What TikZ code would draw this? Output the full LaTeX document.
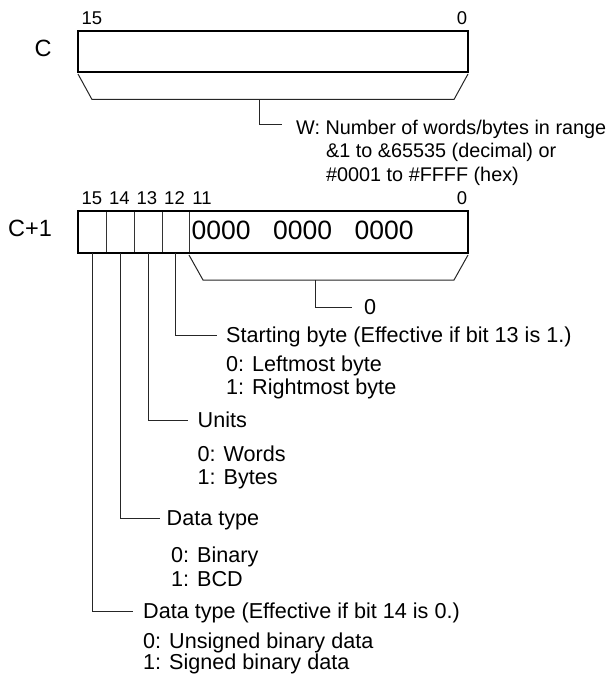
\documentclass[tikz,border=0pt]{standalone}
\usepackage{fontspec}
\setmainfont{Liberation Sans}
\begin{document}
\begin{tikzpicture}[x=1pt,y=-1pt,
  bigbox/.style={draw=black, line width=2.8pt, minimum width=390pt, inner sep=0pt, outer sep=0pt},
  cellbox/.style={minimum width=28pt, minimum height=42pt, inner sep=0pt, outer sep=0pt},
  bitlbl/.style={anchor=base, inner sep=0pt, font=\fontsize{18.5}{20}\selectfont},
  reglbl/.style={anchor=base, inner sep=0pt, font=\fontsize{23.5}{26}\selectfont},
  desc/.style={anchor=west, inner sep=0pt, text height=15.5pt, text depth=0pt, font=\fontsize{21.6}{24}\selectfont},
  wtext/.style={anchor=west, inner sep=0pt, text height=14.2pt, text depth=0pt, font=\fontsize{19.8}{22}\selectfont},
  zeros/.style={anchor=base west, inner sep=0pt, font=\fontsize{26.5}{28}\selectfont},
  conn/.style={draw=black!85, line width=1pt},
  divider/.style={draw=black!80, line width=0.9pt}
]
\useasboundingbox (0,0) rectangle (610,674);

% ---- word C ----
\node[bitlbl] (t15) at (92,24.6) {15};
\node[bitlbl] (t0) at (462,24.6) {0};
\node[reglbl] (lc) at (43,56.7) {C};
\node[bigbox, minimum height=41pt] (cw) at (273,51.5) {};
\coordinate (cwtl) at (78,74);
\coordinate (cwbl) at (92,99.5);
\coordinate (cwbr) at (454,99.5);
\coordinate (cwtr) at (468,74);
\draw[conn] (cwtl) -- (cwbl) -- (cwbr) -- (cwtr);
\coordinate (cwstem) at (259,99.5);
\coordinate (wend) at (282,125);
\draw[conn] (cwstem) |- (wend);
\node[wtext] (w1) at (296,127) {W: Number of words/bytes in range};
\node[wtext] (w2) at (326,150.5) {\&1 to \&65535 (decimal) or};
\node[wtext] (w3) at (326,174) {\#0001 to \#FFFF (hex)};

% ---- word C+1 ----
\node[bitlbl] (b15) at (92,204.6) {15};
\node[bitlbl] (b14) at (119.5,204.6) {14};
\node[bitlbl] (b13) at (147,204.6) {13};
\node[bitlbl] (b12) at (174.5,204.6) {12};
\node[bitlbl] (b11) at (202,204.6) {11};
\node[bitlbl] (b0) at (462,204.6) {0};
\node[reglbl] (lc1) at (30,236.4) {C+1};

\node[cellbox] (c15) at (92,232) {};
\node[cellbox] (c14) at (120,232) {};
\node[cellbox] (c13) at (148,232) {};
\node[cellbox, minimum width=27pt] (c12) at (175.5,232) {};
\draw[divider] (c15.north east) -- (c15.south east);
\draw[divider] (c14.north east) -- (c14.south east);
\draw[divider] (c13.north east) -- (c13.south east);
\draw[divider] (c12.north east) -- (c12.south east);
\node[bigbox, minimum height=42pt] (cw1) at (273,232) {};
\node[zeros] (zz) at (191.5,239.5) {0000\hspace{22.5pt}0000\hspace{22.5pt}0000};

\coordinate (c1tl) at (189,255);
\coordinate (c1bl) at (203,280);
\coordinate (c1br) at (454,280);
\coordinate (c1tr) at (468,255);
\draw[conn] (c1tl) -- (c1bl) -- (c1br) -- (c1tr);
\coordinate (c1stem) at (315,280);
\coordinate (zend) at (352,307);
\draw[conn] (c1stem) |- (zend);
\node[desc] (zlbl) at (364,307) {0};

% ---- bit 12 ----
\coordinate (e12) at (217,335);
\draw[conn] (c12.south) |- (e12);
\node[desc] (sb) at (226,335) {Starting byte (Effective if bit 13 is 1.)};
\node[desc] (sb0) at (226,363.3) {0: Leftmost byte};
\node[desc] (sb1) at (226,386.7) {1: Rightmost byte};

% ---- bit 13 ----
\coordinate (e13) at (188,420);
\draw[conn] (c13.south) |- (e13);
\node[desc] (un) at (197.5,420) {Units};
\node[desc] (un0) at (197.5,453.3) {0: Words};
\node[desc] (un1) at (197.5,476.7) {1: Bytes};

% ---- bit 14 ----
\coordinate (e14) at (160,518);
\draw[conn] (c14.south) |- (e14);
\node[desc] (dt) at (166.5,518) {Data type};
\node[desc] (dt0) at (171,555) {0: Binary};
\node[desc] (dt1) at (171,578.3) {1: BCD};

% ---- bit 15 ----
\coordinate (e15) at (133,611);
\draw[conn] (c15.south) |- (e15);
\node[desc] (de) at (143,611) {Data type (Effective if bit 14 is 0.)};
\node[desc] (de0) at (143,641.2) {0: Unsigned binary data};
\node[desc] (de1) at (143,661.5) {1: Signed binary data};
\end{tikzpicture}
\end{document}
